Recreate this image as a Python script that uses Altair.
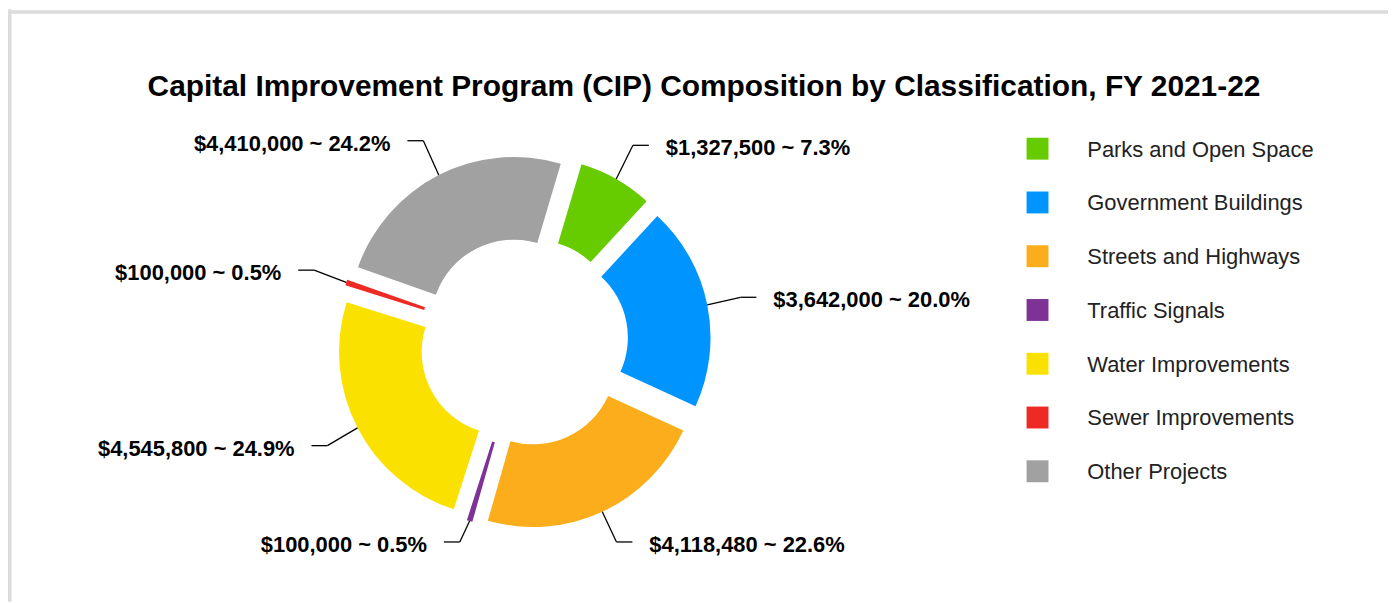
import math
import altair as alt
import pandas as pd

# ---- data ----
categories = [
    "Parks and Open Space",
    "Government Buildings",
    "Streets and Highways",
    "Traffic Signals",
    "Water Improvements",
    "Sewer Improvements",
    "Other Projects",
]
values = [1327500, 3642000, 4118480, 100000, 4545800, 100000, 4410000]
colors = ["#66CC00", "#0094FF", "#FBAD1B", "#7E3296", "#FBE100", "#EE2A24", "#A1A1A1"]
title_text = "Capital Improvement Program (CIP) Composition by Classification, FY 2021-22"

df = pd.DataFrame({"category": categories, "value": values, "order": list(range(len(values)))})
TOTAL = sum(values)

# ---- layout ----
W, H = 1386, 595
CX, CY = 518, 334          # donut centre (view coords)
R_OUT, R_IN = 166, 83      # radii
EXPLODE = 22               # slice offset
R_ELBOW_X = 200            # leader elbow radius (horizontal)
R_ELBOW_Y = 205            # leader elbow radius (vertical)
LAB_TOP, LAB_BOTTOM = 132, 535
START = math.radians(16.5)
FONT = "Liberation Sans"

xs = alt.Scale(domain=[0, W], range=[0, W], nice=False, zero=False)
ys = alt.Scale(domain=[0, H], range=[0, H], nice=False, zero=False)

base = (
    alt.Chart(df)
    .transform_window(cum_end="sum(value)", sort=[alt.SortField("order")], frame=[None, 0])
    .transform_calculate(
        cum_start="datum.cum_end - datum.value",
        mid=f"{START} + 2*PI*(datum.cum_start + datum.value/2)/{TOTAL}",
        pcx=f"{CX} + {EXPLODE}*sin(datum.mid)",
        pcy=f"{CY} - {EXPLODE}*cos(datum.mid)",
        sx=f"datum.pcx + {R_OUT}*sin(datum.mid)",
        sy=f"datum.pcy - {R_OUT}*cos(datum.mid)",
        ex=f"datum.pcx + {R_ELBOW_X}*sin(datum.mid)",
        ey=f"clamp(datum.pcy - {R_ELBOW_Y}*cos(datum.mid), {LAB_TOP}, {LAB_BOTTOM})",
        side="sin(datum.mid) >= 0 ? 1 : -1",
        hx="datum.ex + datum.side*16",
        tx="datum.hx + datum.side*17",
        ty="datum.ey + 10",
        label=f"format(datum.value, '$,') + ' ~ ' + format(datum.value/{TOTAL}, '.1%')",
        ly="140 + 54*datum.order",
        lty="148 + 54*datum.order",
    )
)

color = alt.Color("category:N", scale=alt.Scale(domain=categories, range=colors), legend=None)

arcs = base.mark_arc(radius=R_OUT, radius2=R_IN).encode(
    x=alt.X("pcx:Q", scale=xs, axis=None),
    y=alt.Y("pcy:Q", scale=ys, axis=None),
    theta=alt.Theta("cum_start:Q", stack=None,
                    scale=alt.Scale(domain=[0, TOTAL], range=[START, START + 2 * math.pi])),
    theta2="cum_end:Q",
    color=color,
)

lead1 = base.mark_rule(color="black", strokeWidth=1.3).encode(
    x=alt.X("sx:Q", scale=xs, axis=None),
    y=alt.Y("sy:Q", scale=ys, axis=None),
    x2="ex:Q",
    y2="ey:Q",
)
lead2 = base.mark_rule(color="black", strokeWidth=1.3).encode(
    x=alt.X("ex:Q", scale=xs, axis=None),
    x2="hx:Q",
    y=alt.Y("ey:Q", scale=ys, axis=None),
)

lab_right = base.transform_filter("datum.side > 0").mark_text(
    align="left", baseline="alphabetic", font=FONT, fontSize=22, fontWeight="bold", color="black"
).encode(
    x=alt.X("tx:Q", scale=xs, axis=None),
    y=alt.Y("ty:Q", scale=ys, axis=None),
    text="label:N",
)
lab_left = base.transform_filter("datum.side < 0").mark_text(
    align="right", baseline="alphabetic", font=FONT, fontSize=22, fontWeight="bold", color="black"
).encode(
    x=alt.X("tx:Q", scale=xs, axis=None),
    y=alt.Y("ty:Q", scale=ys, axis=None),
    text="label:N",
)

leg_sq = base.mark_square(size=484, opacity=1, filled=True).encode(
    x=alt.value(1034),
    y=alt.Y("ly:Q", scale=ys, axis=None),
    color=color,
)
leg_txt = base.mark_text(
    align="left", baseline="alphabetic", font=FONT, fontSize=22, color="#222222"
).encode(
    x=alt.value(1084),
    y=alt.Y("lty:Q", scale=ys, axis=None),
    text="category:N",
)

one = alt.Data(values=[{"k": 1}])
title = alt.Chart(one).mark_text(
    text=title_text, align="center", baseline="alphabetic", font=FONT,
    fontSize=30, fontWeight="bold", color="black"
).encode(x=alt.value(699), y=alt.value(87))

border_left = alt.Chart(one).mark_rule(color="#dcdcdc", strokeWidth=3.5).encode(
    x=alt.value(1.75), y=alt.value(0), y2=alt.value(H)
)
border_top = alt.Chart(one).mark_rule(color="#dcdcdc", strokeWidth=3.5).encode(
    x=alt.value(0), x2=alt.value(W), y=alt.value(2.75)
)

chart = (
    alt.layer(border_left, border_top, title, arcs, lead1, lead2, lab_right, lab_left, leg_sq, leg_txt)
    .properties(width=W, height=H, padding=0, autosize="none")
    .configure_view(stroke=None)
)

chart.save("out.html", embed_options={"renderer": "svg", "actions": False})
